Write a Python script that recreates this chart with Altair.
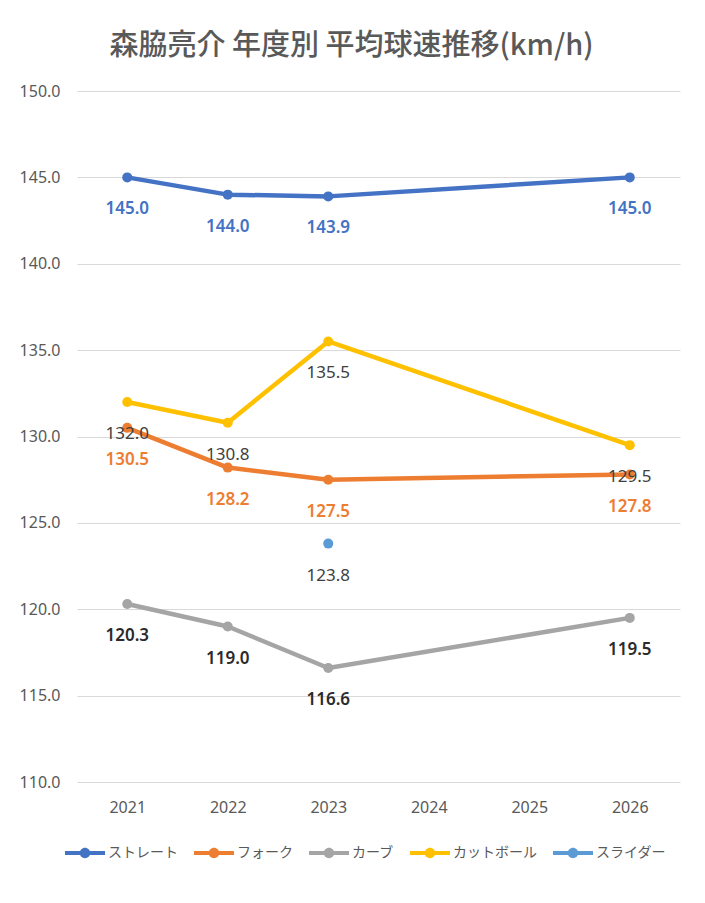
import altair as alt
import pandas as pd

years = ["2021", "2022", "2023", "2024", "2025", "2026"]
series = ["ストレート", "フォーク", "カーブ", "カットボール", "スライダー"]
colors = ["#4472C4", "#ED7D31", "#A5A5A5", "#FFC000", "#5B9BD5"]
label_colors = ["#4472C4", "#ED7D31", "#2b2b2b", "#404040", "#404040"]
bold_series = ["ストレート", "フォーク", "カーブ"]

straight = [145.0, 144.0, 143.9, None, None, 145.0]
fork = [130.5, 128.2, 127.5, None, None, 127.8]
curve = [120.3, 119.0, 116.6, None, None, 119.5]
cutter = [132.0, 130.8, 135.5, None, None, 129.5]
slider = [None, None, 123.8, None, None, None]

y_ticks = [110, 115, 120, 125, 130, 135, 140, 145, 150]
title_text = "森脇亮介 年度別 平均球速推移(km/h)"

rows = []
for name, vals, lc in zip(series, [straight, fork, curve, cutter, slider], label_colors):
    for yr, v in zip(years, vals):
        if v is not None:
            rows.append({"year": yr, "series": name, "v": v, "lc": lc,
                         "bold": name in bold_series})
df = pd.DataFrame(rows)

FONT = "Noto Sans"
JP = "Noto Sans CJK JP"

x = alt.X("year:O", scale=alt.Scale(domain=years, type="point", padding=0.5),
          axis=alt.Axis(title=None, labelAngle=0, grid=False, domain=False, ticks=False,
                        labelPadding=17, labelFontSize=16, labelColor="#595959",
                        labelFont=FONT))
y = alt.Y("v:Q", scale=alt.Scale(domain=[110, 150], nice=False, zero=False),
          axis=alt.Axis(title=None, values=y_ticks, format=".1f", grid=True,
                        gridColor="#d9d9d9", gridWidth=1.2, domain=False, ticks=False,
                        labelPadding=17, labelFontSize=16, labelColor="#595959",
                        labelFont=FONT))
color_scale = alt.Scale(domain=series, range=colors)

legend_path = ("M-1,-0.1L1,-0.1L1,0.1L-1,0.1Z "
               "M0.26,0A0.26,0.26,0,1,1,-0.26,0A0.26,0.26,0,1,1,0.26,0Z")
legend = alt.Legend(title=None, orient="none", direction="horizontal",
                    legendX=-12, legendY=742,
                    symbolType=legend_path, symbolSize=1600,
                    symbolStrokeWidth=0, symbolOpacity=1,
                    labelFontSize=14, labelFont=JP,
                    labelColor="#595959", labelOffset=3,
                    columnPadding=16, padding=0)
color = alt.Color("series:N", scale=color_scale, sort=series, legend=legend)

base = alt.Chart(df)

points = base.mark_point(filled=True, size=100, opacity=1).encode(
    x=x, y=y, color=color,
)

lines = base.mark_line(strokeWidth=4.5, strokeCap="round", strokeJoin="round").encode(
    x=x, y=y, color=color, detail="series:N",
)

labels_bold = base.transform_filter("datum.bold").mark_text(
    dy=32, fontSize=17, font=FONT, fontWeight=600, baseline="middle").encode(
    x=x, y=y, text=alt.Text("v:Q", format=".1f"),
    fill=alt.Fill("lc:N", scale=None),
)
labels_reg = base.transform_filter("!datum.bold").mark_text(
    dy=32, fontSize=17, font=FONT, fontWeight="normal", baseline="middle").encode(
    x=x, y=y, text=alt.Text("v:Q", format=".1f"),
    fill=alt.Fill("lc:N", scale=None),
)

chart = alt.layer(points, lines, labels_bold, labels_reg).properties(
    width=603, height=691,
    title=alt.TitleParams(title_text, fontSize=29, font=JP, fontWeight=500,
                          color="#595959", anchor="middle", dx=-27, offset=22),
    autosize=alt.AutoSizeParams(type="none"),
    padding={"left": 69, "top": 83, "right": 17, "bottom": 113},
).configure(background="white").configure_view(stroke=None)

chart.save("out.html", embed_options={"renderer": "svg", "actions": False})
